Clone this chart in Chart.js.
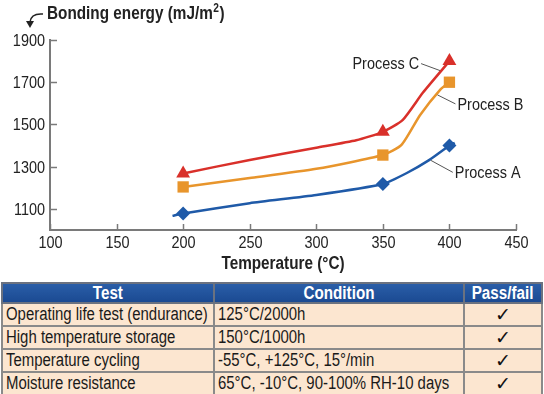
<!DOCTYPE html>
<html>
<head>
<meta charset="utf-8">
<script src="https://cdn.jsdelivr.net/npm/chart.js"></script>
<style>
  body { margin: 0; background: #fff; width: 544px; height: 394px; position: relative; overflow: hidden; }
  #wrap { position: absolute; left: 0; top: 0; width: 544px; height: 280px; }
  table {
    position: absolute; left: 1px; top: 282px; width: 540px; table-layout: fixed;
    border-collapse: collapse; font-family: "Liberation Sans", Arial, sans-serif;
    font-size: 18px; color: #1a1a1a;
  }
  th { background: linear-gradient(#2a5ea8, #1b4a92); color: #fff; font-weight: bold; height: 18px; padding: 0; line-height: 18px; border: 2px solid #6b7280; overflow: visible; }
  td { background: #fce6d0; border: 2px solid #8a8a8a; height: 21px; padding: 0 3px; line-height: 21px; white-space: nowrap; overflow: visible; }
  td span, th span { display: inline-block; white-space: nowrap; transform: scaleX(0.83); transform-origin: left center; }
  th span { transform: scaleX(0.845); transform-origin: center center; }
  td.c { text-align: center; font-family: "DejaVu Sans", sans-serif; font-weight: bold; font-size: 19px; color: #111; }
  td.c span { transform: none; }
</style>
</head>
<body>
<div id="wrap"><canvas id="chart"></canvas></div>
<table>
  <colgroup><col style="width:212px"><col style="width:250px"><col style="width:78px"></colgroup>
  <tr><th><span>Test</span></th><th><span>Condition</span></th><th><span>Pass/fail</span></th></tr>
  <tbody id="rows"></tbody>
</table>
<script>
// --- podatki, odčitani s slike ---
const tempsA = [192, 200, 250, 300, 350, 368, 385, 400, 404];
const energyA = [1067, 1078, 1127, 1166, 1218, 1270, 1332, 1400, 1413];
const tempsB = [200, 250, 300, 350, 364, 378, 393, 400];
const energyB = [1204, 1246, 1290, 1355, 1403, 1545, 1664, 1700];
const tempsC = [200, 250, 300, 330, 350, 365, 380, 400];
const energyC = [1268, 1332, 1390, 1425, 1465, 1522, 1650, 1800];
const markerTemps = [200, 350, 400];
const yTicks = [1100, 1300, 1500, 1700, 1900];

const testNames = ['Operating life test (endurance)', 'High temperature storage', 'Temperature cycling', 'Moisture resistance'];
const testConditions = ['125°C/2000h', '150°C/1000h', '-55°C, +125°C, 15°/min', '65°C, -10°C, 90-100% RH-10 days'];
const testResults = ['✓', '✓', '✓', '✓'];

const FONT = '"Liberation Sans", Arial, sans-serif';
const NARROW = 0.85; // stisnjena pisava kot v originalu
const AXIS = '#7a7a7a';
const INK = '#222';

// tabela
document.getElementById('rows').innerHTML = testNames.map((n, i) =>
  `<tr><td><span>${n}</span></td><td><span>${testConditions[i]}</span></td><td class="c"><span>${testResults[i]}</span></td></tr>`).join('');

function toPoints(xs, ys) { return xs.map((x, i) => ({ x: x, y: ys[i] })); }
function radii(xs, r) { return xs.map(x => markerTemps.includes(x) ? r : 0); }

function series(label, xs, ys, color, style, r) {
  return {
    label: label,
    data: toPoints(xs, ys),
    borderColor: color,
    backgroundColor: color,
    borderWidth: 2.5,
    pointStyle: style,
    pointRadius: radii(xs, r),
    pointHoverRadius: radii(xs, r),
    pointBorderWidth: 0,
    tension: 0.2
  };
}

function narrowText(ctx, str, x, y, align, font) {
  ctx.save();
  ctx.font = font;
  ctx.textAlign = align;
  ctx.textBaseline = 'middle';
  ctx.translate(x, y);
  ctx.scale(NARROW, 1);
  ctx.fillText(str, 0, 0);
  const w = ctx.measureText(str).width * NARROW;
  ctx.restore();
  return w;
}

// oznake, napisi in puščica
const decorPlugin = {
  id: 'decor',
  afterDraw(chart) {
    const ctx = chart.ctx;
    const x = chart.scales.x, y = chart.scales.y;
    const area = chart.chartArea;
    ctx.save();
    ctx.fillStyle = INK;
    // kratke oznake na oseh (navznoter) + številke
    ctx.strokeStyle = AXIS; ctx.lineWidth = 1.5;
    yTicks.forEach(v => {
      const py = Math.round(y.getPixelForValue(v)) + 0.5;
      ctx.beginPath(); ctx.moveTo(area.left, py); ctx.lineTo(area.left + 7, py); ctx.stroke();
      narrowText(ctx, String(v), area.left - 5, py + 1, 'right', '17px ' + FONT);
    });
    x.ticks.forEach(t => {
      const px = Math.round(x.getPixelForValue(t.value)) + 0.5;
      ctx.beginPath(); ctx.moveTo(px, area.bottom); ctx.lineTo(px, area.bottom - 6); ctx.stroke();
      narrowText(ctx, String(t.value), px, area.bottom + 13, 'center', '17px ' + FONT);
    });
    // naslova osi
    narrowText(ctx, 'Temperature (°C)', (area.left + area.right) / 2, area.bottom + 34, 'center', 'bold 18px ' + FONT);
    let tx = 47;
    tx += narrowText(ctx, 'Bonding energy (mJ/m', tx, 14, 'left', 'bold 18px ' + FONT);
    tx += narrowText(ctx, '2', tx + 0.5, 9, 'left', 'bold 12px ' + FONT) + 1;
    narrowText(ctx, ')', tx, 14, 'left', 'bold 18px ' + FONT);
    // puščica
    ctx.strokeStyle = INK; ctx.lineWidth = 1.5;
    ctx.beginPath(); ctx.moveTo(43, 14); ctx.quadraticCurveTo(31, 13, 30, 22); ctx.stroke();
    ctx.beginPath(); ctx.moveTo(26, 21); ctx.lineTo(34, 21); ctx.lineTo(30, 28); ctx.closePath(); ctx.fill();
    // oznake procesov
    ctx.strokeStyle = '#555'; ctx.lineWidth = 1;
    const labels = [
      { t: 'Process C', at: [393, 1755], dx: -19, dy: -7, align: 'right' },
      { t: 'Process B', at: [391, 1640], dx: 18, dy: 9, align: 'left' },
      { t: 'Process A', at: [386, 1330], dx: 22, dy: 12, align: 'left' }
    ];
    labels.forEach(l => {
      const px = x.getPixelForValue(l.at[0]), py = y.getPixelForValue(l.at[1]);
      const ex = px + l.dx, ey = py + l.dy;
      ctx.beginPath(); ctx.moveTo(px, py); ctx.lineTo(ex, ey); ctx.stroke();
      narrowText(ctx, l.t, l.align === 'right' ? ex - 2 : ex + 2, ey + 1, l.align, '17px ' + FONT);
    });
    ctx.restore();
  }
};

new Chart(document.getElementById('chart'), {
  type: 'line',
  data: {
    datasets: [
      series('Process A', tempsA, energyA, '#1f5aa8', 'rectRot', 7),
      series('Process B', tempsB, energyB, '#e8952c', 'rect', 8),
      series('Process C', tempsC, energyC, '#d9302a', 'triangle', 8)
    ]
  },
  options: {
    responsive: true,
    maintainAspectRatio: false,
    animation: false,
    events: [],
    layout: { padding: { top: 40, right: 28, bottom: 7, left: 0 } },
    plugins: { legend: { display: false }, tooltip: { enabled: false } },
    scales: {
      x: {
        type: 'linear', min: 100, max: 450,
        ticks: { stepSize: 50, display: false },
        grid: { drawOnChartArea: false, drawTicks: false },
        border: { color: AXIS, width: 2 },
        afterFit(s) { s.height = 43; }
      },
      y: {
        min: 1000, max: 1900,
        afterBuildTicks(s) { s.ticks = yTicks.map(v => ({ value: v })); },
        ticks: { display: false },
        grid: { drawOnChartArea: false, drawTicks: false },
        border: { color: AXIS, width: 2 },
        afterFit(s) { s.width = 50; }
      }
    }
  },
  plugins: [decorPlugin]
});
</script>
</body>
</html>
